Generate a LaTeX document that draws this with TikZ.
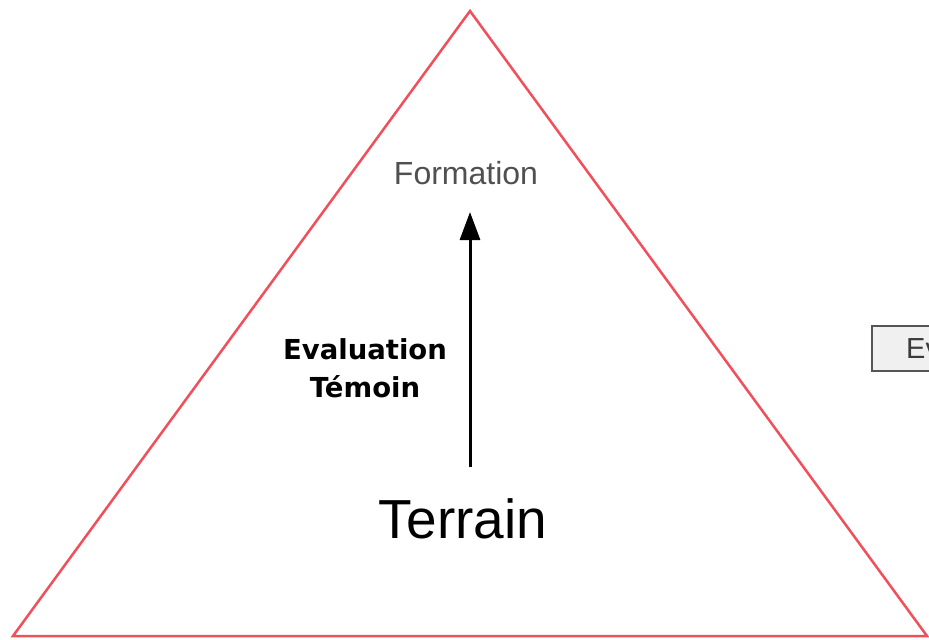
\documentclass[tikz,border=0pt]{standalone}
\usepackage{fontspec}
\setmainfont{Liberation Sans}
\newfontfamily\dejabold{DejaVu Sans}
\usetikzlibrary{arrows.meta}
\definecolor{tri}{RGB}{240,80,92}
\definecolor{labgray}{RGB}{80,80,80}
\definecolor{btnfill}{RGB}{240,240,240}
\definecolor{btnedge}{RGB}{85,85,85}
\tikzset{
  pyramid/.style={draw=tri, line width=2.5bp, line join=miter},
  riseline/.style={line width=3bp, -{Triangle[width=20bp,length=28bp]}},
  lbl/.style={inner sep=0pt, anchor=base},
  btn/.style={draw=btnedge, fill=btnfill, line width=2.5bp},
}
\begin{document}
\begin{tikzpicture}[x=1bp,y=-1bp]
\clip (0,0) rectangle (929,640);
\fill[white] (0,0) rectangle (929,640);
% pyramid
\draw[pyramid] (470,11) -- (927,636) -- (13,636) -- cycle;
% labels
\node[lbl, text=labgray, font=\fontsize{32bp}{36bp}\selectfont] (form) at (466,185) {Formation};
\node[lbl, font=\dejabold\bfseries\fontsize{27.5bp}{32bp}\selectfont] (eval) at (365,359) {Evaluation};
\node[lbl, font=\dejabold\bfseries\fontsize{27.5bp}{32bp}\selectfont] (temoin) at (365,397) {Témoin};
\node[lbl, font=\fontsize{55bp}{62bp}\selectfont] (terr) at (463,538) {Terrain};
% arrow
\coordinate (arrS) at (470,467);
\coordinate (arrE) at (470,212);
\draw[riseline] (arrS) -- (arrE);
% partial button at right edge
\draw[btn] (872,326) rectangle (960,371);
\node[inner sep=0pt, anchor=base west, text=btnedge!70!black, font=\fontsize{29bp}{33bp}\selectfont] (ev) at (906,358) {Ev};
\end{tikzpicture}
\end{document}
